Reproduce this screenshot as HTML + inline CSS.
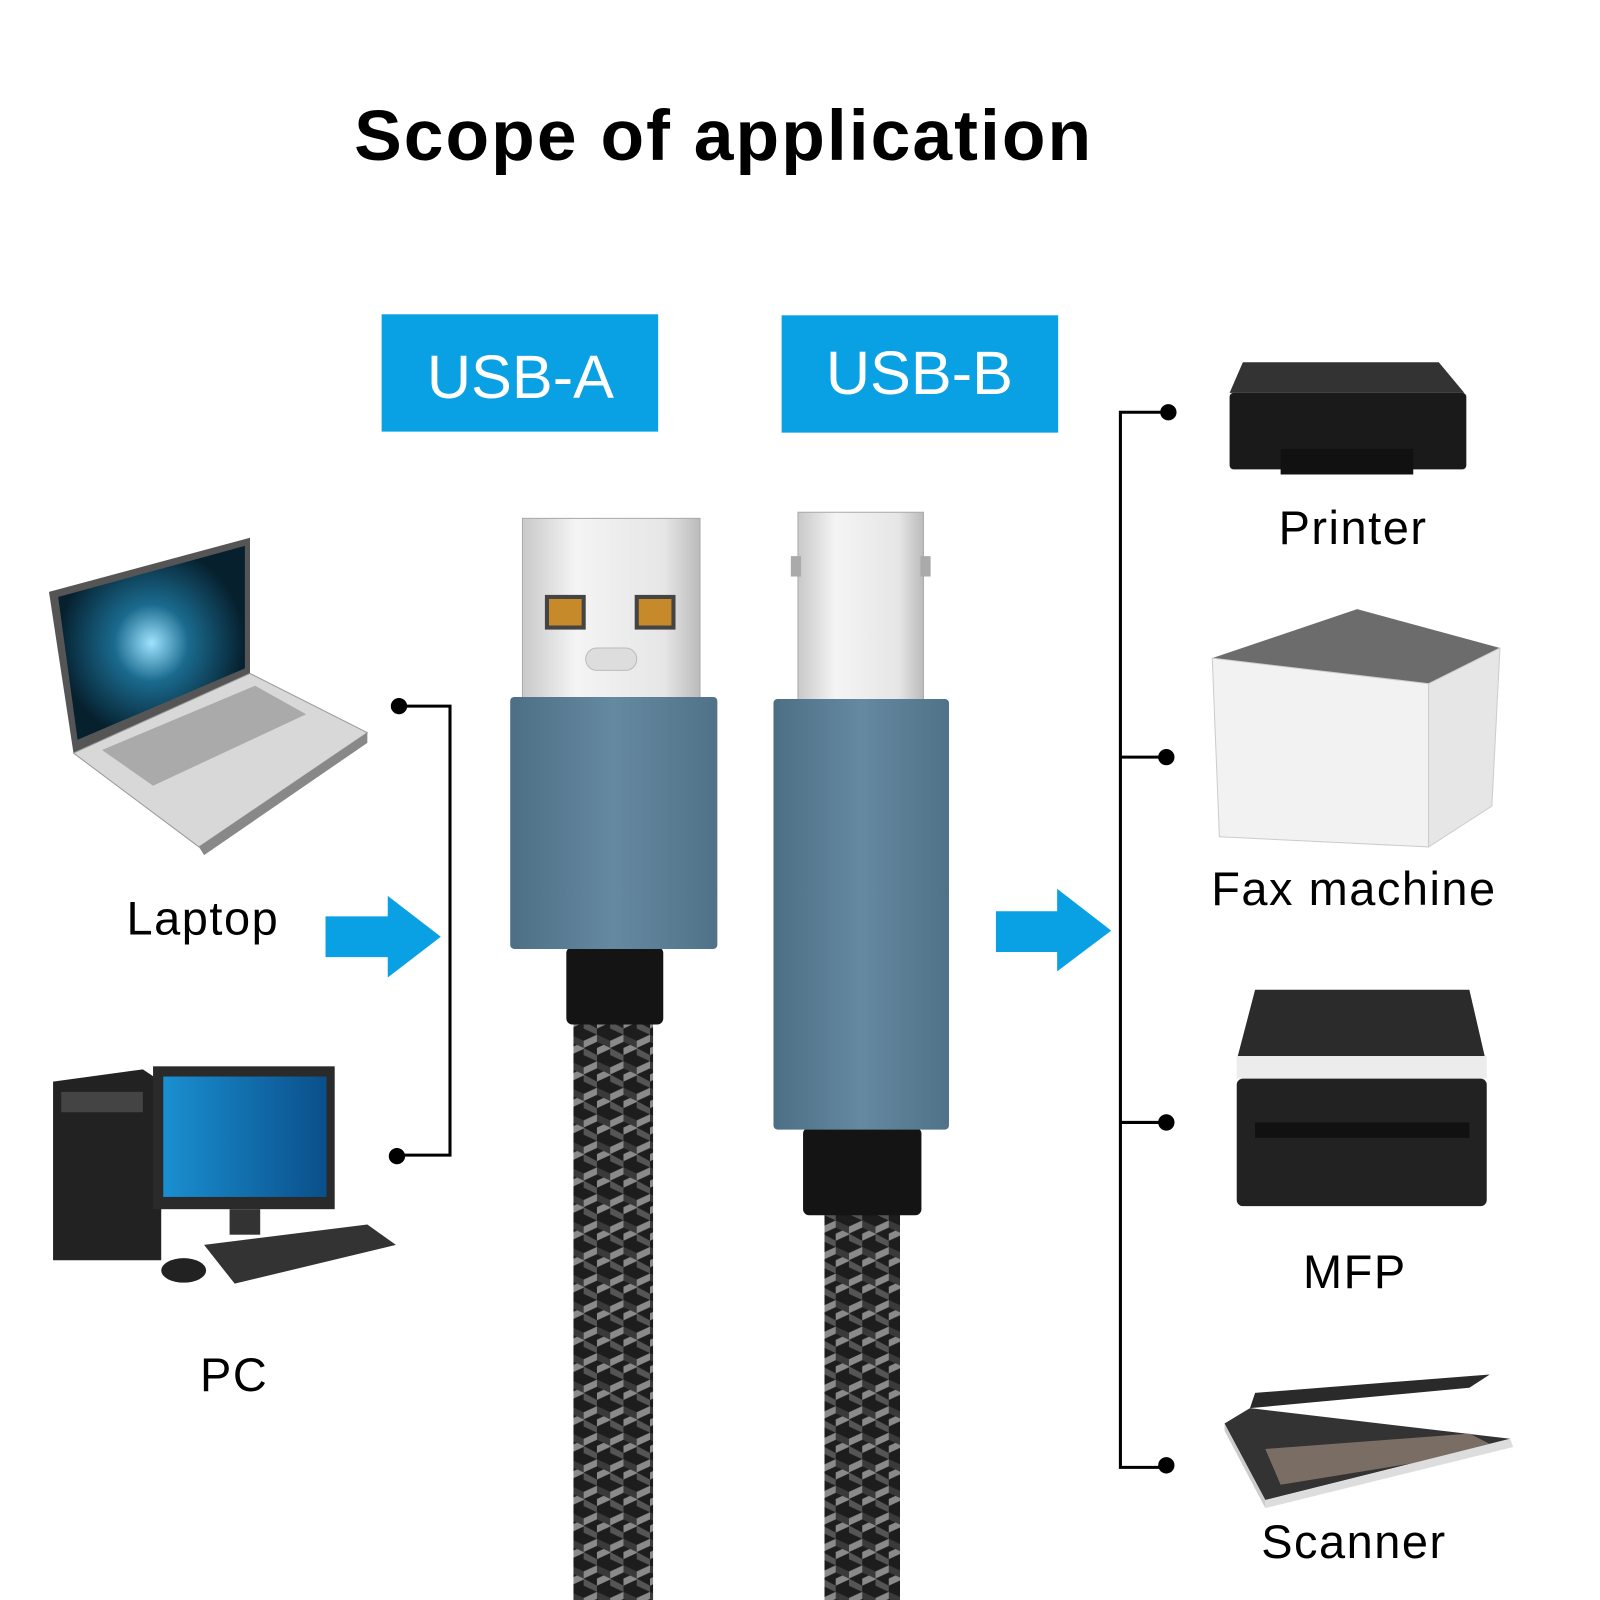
<!DOCTYPE html>
<html><head><meta charset="utf-8"><style>
html,body{margin:0;padding:0;background:#fff;width:1600px;height:1600px;overflow:hidden}
svg{display:block}
text{font-family:"Liberation Sans",sans-serif}
.lbl{letter-spacing:1.5px}
</style></head><body>
<svg width="1600" height="1600" viewBox="0 0 1568 1568" xmlns="http://www.w3.org/2000/svg">
<defs>
<pattern id="braid" width="26" height="26" patternUnits="userSpaceOnUse">
<rect width="26" height="26" fill="#1d1d1d"/>
<path d="M0 6 L13 0 L13 7 L0 13Z" fill="#8a8a8a"/>
<path d="M13 13 L26 7 L26 14 L13 20Z" fill="#8a8a8a"/>
<path d="M13 0 L26 6 L26 13 L13 7Z" fill="#3a3a3a"/>
<path d="M0 13 L13 20 L13 26 L0 20Z" fill="#555"/>
</pattern>
<linearGradient id="metal" x1="0" x2="1"><stop offset="0" stop-color="#c9c9c9"/><stop offset=".3" stop-color="#f4f4f4"/><stop offset=".8" stop-color="#e6e6e6"/><stop offset="1" stop-color="#bbb"/></linearGradient>
<linearGradient id="housing" x1="0" x2="1"><stop offset="0" stop-color="#4c6f86"/><stop offset=".5" stop-color="#6589a0"/><stop offset="1" stop-color="#4f7289"/></linearGradient>
<radialGradient id="scr"><stop offset="0" stop-color="#9fe3ff"/><stop offset=".4" stop-color="#1a6a8e"/><stop offset="1" stop-color="#06202e"/></radialGradient>
<linearGradient id="mon" x1="0" x2="1"><stop offset="0" stop-color="#1a8fd0"/><stop offset="1" stop-color="#0a4f8a"/></linearGradient>
</defs>

<text x="347" y="157" font-size="70" font-weight="bold" fill="#000" letter-spacing="2">Scope of application</text>

<rect x="374" y="308" width="271" height="115" fill="#0aa1e4"/>
<text x="510" y="390" font-size="60" fill="#fff" text-anchor="middle">USB-A</text>
<rect x="766" y="309" width="271" height="115" fill="#0aa1e4"/>
<text x="901" y="386" font-size="60" fill="#fff" text-anchor="middle">USB-B</text>

<!-- USB-A -->
<rect x="512" y="508" width="174" height="180" fill="url(#metal)" stroke="#aaa"/>
<rect x="536" y="585" width="36" height="30" fill="#c78a2a" stroke="#444" stroke-width="4"/>
<rect x="624" y="585" width="36" height="30" fill="#c78a2a" stroke="#444" stroke-width="4"/>
<rect x="574" y="635" width="50" height="22" rx="11" fill="#ddd" stroke="#bbb"/>
<rect x="562" y="1000" width="78" height="568" fill="url(#braid)"/>
<rect x="555" y="928" width="95" height="76" rx="6" fill="#141414"/>
<rect x="500" y="683" width="203" height="247" rx="4" fill="url(#housing)"/>

<!-- USB-B -->
<rect x="782" y="502" width="123" height="186" fill="url(#metal)" stroke="#aaa"/>
<rect x="775" y="545" width="10" height="20" fill="#aaa"/>
<rect x="902" y="545" width="10" height="20" fill="#aaa"/>
<rect x="808" y="1185" width="74" height="383" fill="url(#braid)"/>
<rect x="787" y="1105" width="116" height="86" rx="6" fill="#141414"/>
<rect x="758" y="685" width="172" height="422" rx="4" fill="url(#housing)"/>

<!-- left bracket -->
<polyline points="391,692 441,692 441,1132 389,1132" fill="none" stroke="#000" stroke-width="3"/>
<circle cx="391" cy="692" r="8"/><circle cx="389" cy="1133" r="8"/>
<polygon points="319,898 380,898 380,878 432,918 380,958 380,938 319,938" fill="#0aa1e4"/>

<!-- right bracket -->
<polyline points="1145,404 1098,404 1098,1438 1145,1438" fill="none" stroke="#000" stroke-width="3"/>
<line x1="1098" y1="742" x2="1143" y2="742" stroke="#000" stroke-width="3"/>
<line x1="1098" y1="1100" x2="1143" y2="1100" stroke="#000" stroke-width="3"/>
<circle cx="1145" cy="404" r="8"/><circle cx="1143" cy="742" r="8"/><circle cx="1143" cy="1100" r="8"/><circle cx="1143" cy="1436" r="8"/>
<polygon points="976,893 1036,893 1036,871 1089,912 1036,952 1036,933 976,933" fill="#0aa1e4"/>

<!-- Laptop -->
<polygon points="48,580 245,527 245,660 72,738" fill="#555"/>
<polygon points="57,585 240,535 240,655 76,725" fill="url(#scr)"/>
<polygon points="72,738 245,660 360,718 195,830" fill="#d8d8d8" stroke="#999"/>
<polygon points="100,735 250,672 300,700 150,770" fill="#aaa"/>
<polygon points="195,830 360,718 360,728 200,838" fill="#888"/>
<text class="lbl" x="124" y="916" font-size="46" fill="#000">Laptop</text>

<!-- PC -->
<polygon points="52,1060 140,1048 158,1060 158,1235 52,1235" fill="#222"/>
<rect x="60" y="1070" width="80" height="20" fill="#444"/>
<rect x="150" y="1045" width="178" height="140" fill="#2a2a2a"/>
<rect x="160" y="1055" width="160" height="118" fill="url(#mon)"/>
<rect x="225" y="1185" width="30" height="25" fill="#333"/>
<polygon points="200,1220 360,1200 388,1220 230,1258" fill="#333"/>
<ellipse cx="180" cy="1245" rx="22" ry="12" fill="#222"/>
<text class="lbl" x="196" y="1363" font-size="46" fill="#000">PC</text>

<!-- Printer -->
<polygon points="1218,355 1410,355 1435,385 1205,385" fill="#333"/>
<rect x="1205" y="385" width="232" height="75" rx="4" fill="#1a1a1a"/>
<rect x="1255" y="440" width="130" height="25" fill="#111"/>
<text class="lbl" x="1253" y="533" font-size="46" fill="#000">Printer</text>

<!-- Fax -->
<polygon points="1188,645 1330,597 1470,635 1400,670" fill="#6c6c6c"/>
<polygon points="1188,645 1400,670 1400,830 1195,820" fill="#f2f2f2" stroke="#ccc"/>
<polygon points="1400,670 1470,635 1462,790 1400,830" fill="#e6e6e6" stroke="#ccc"/>
<text class="lbl" x="1187" y="887" font-size="46" fill="#000">Fax machine</text>

<!-- MFP -->
<polygon points="1230,970 1440,970 1455,1035 1213,1035" fill="#2b2b2b"/>
<rect x="1212" y="1035" width="245" height="22" fill="#ececec"/>
<rect x="1212" y="1057" width="245" height="125" rx="6" fill="#222"/>
<rect x="1230" y="1100" width="210" height="15" fill="#111"/>
<text class="lbl" x="1277" y="1262" font-size="46" fill="#000">MFP</text>

<!-- Scanner -->
<polygon points="1230,1365 1460,1347 1440,1360 1225,1380" fill="#2a2a2a"/>
<polygon points="1200,1395 1225,1380 1480,1410 1240,1470" fill="#333"/>
<polygon points="1240,1420 1440,1405 1470,1420 1255,1455" fill="#7a6e64"/>
<polygon points="1200,1395 1240,1470 1240,1478 1200,1402" fill="#ccc"/>
<polygon points="1240,1470 1480,1410 1483,1418 1240,1478" fill="#ddd"/>
<text class="lbl" x="1236" y="1527" font-size="46" fill="#000">Scanner</text>
</svg>
</body></html>
